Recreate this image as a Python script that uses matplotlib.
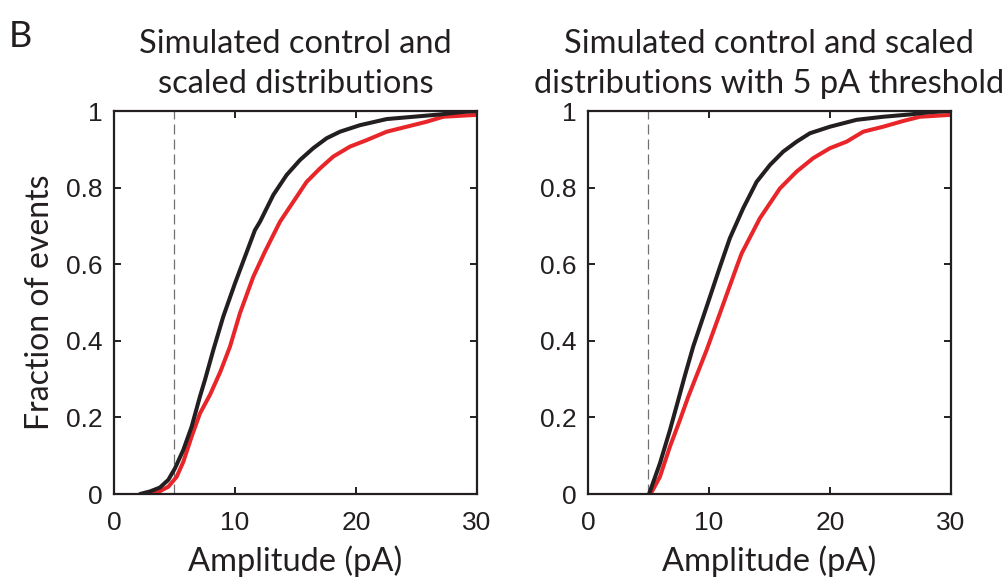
import numpy as np
import matplotlib
matplotlib.use('Agg')
import matplotlib.pyplot as plt

# curves (amplitude in pA, cumulative fraction)
ctrl_x = [2.15, 3.0, 3.8, 4.49, 5.04, 5.73, 6.42, 7.1, 7.52, 8.21, 9.03, 10.0, 10.83, 11.65, 12.07, 13.17,
          14.27, 15.37, 16.47, 17.58, 18.68, 20.33, 22.54, 24.74, 26.94, 28.6, 30.0]
ctrl_y = [0.0, 0.007, 0.017, 0.037, 0.067, 0.115, 0.176, 0.254, 0.298, 0.376, 0.463, 0.55, 0.62, 0.689, 0.711, 0.781,
          0.833, 0.872, 0.903, 0.929, 0.946, 0.963, 0.979, 0.985, 0.991, 0.997, 1.0]
scal_x = [2.42, 3.53, 4.49, 5.18, 5.73, 6.42, 7.1, 7.95, 8.8, 9.59, 10.41, 11.51, 12.48, 13.72, 14.82, 15.92,
          17.02, 18.12, 19.5, 20.88, 22.54, 24.19, 25.84, 27.21, 30.0]
scal_y = [0.0, 0.003, 0.019, 0.045, 0.084, 0.15, 0.21, 0.26, 0.32, 0.385, 0.472, 0.567, 0.633, 0.711, 0.763, 0.815,
          0.85, 0.881, 0.907, 0.924, 0.946, 0.959, 0.972, 0.985, 0.99]

thr_ctrl_x = [5.05, 5.95, 6.78, 7.46, 8.02, 8.7, 9.81, 10.91, 11.73, 12.83, 13.94, 15.04, 16.14, 17.25, 18.35,
              20.0, 22.2, 24.4, 26.6, 28.26, 30.0]
thr_ctrl_y = [0.0, 0.08, 0.167, 0.245, 0.31, 0.385, 0.489, 0.593, 0.668, 0.746, 0.815, 0.859, 0.894, 0.92, 0.942,
              0.959, 0.977, 0.985, 0.991, 0.997, 1.0]
thr_scal_x = [5.18, 5.95, 6.78, 7.6, 8.29, 9.81, 10.91, 12.29, 12.7, 14.21, 15.87, 17.25, 18.62, 20.0,
              21.38, 22.75, 24.4, 26.06, 27.44, 30.0]
thr_scal_y = [0.0, 0.045, 0.124, 0.193, 0.254, 0.376, 0.472, 0.593, 0.628, 0.72, 0.798, 0.842, 0.877, 0.903,
              0.92, 0.946, 0.959, 0.974, 0.985, 0.99]

threshold = 5
titles = ['Simulated control and\nscaled distributions',
          'Simulated control and scaled\ndistributions with 5 pA threshold']
xticks = [0, 10, 20, 30]
yticks = [0, 0.2, 0.4, 0.6, 0.8, 1]
yticklabels = ['0', '0.2', '0.4', '0.6', '0.8', '1']

label_font = 'Lato'
tick_font = 'Liberation Sans'
black = '#231f20'
red = '#e8262a'

fig = plt.figure(figsize=(10.05, 5.77), dpi=100)
ax1 = fig.add_axes([0.1134, 0.1438, 0.3612, 0.6638])
ax2 = fig.add_axes([0.585, 0.1438, 0.3612, 0.6638])

data = [(ctrl_x, ctrl_y, scal_x, scal_y), (thr_ctrl_x, thr_ctrl_y, thr_scal_x, thr_scal_y)]

for i, (ax, (cx, cy, sx, sy)) in enumerate(zip([ax1, ax2], data)):
    ax.axvline(threshold, color='#707070', lw=0.9, dashes=(8, 4), zorder=1)
    ax.plot(sx, sy, color=red, lw=2.9, solid_capstyle='round', solid_joinstyle='round', zorder=2)
    ax.plot(cx, cy, color=black, lw=2.9, solid_capstyle='round', solid_joinstyle='round', zorder=3)
    ax.set_xlim(0, 30)
    ax.set_ylim(0, 1)
    ax.set_xticks(xticks)
    ax.set_yticks(yticks)
    ax.set_yticklabels(yticklabels)
    ax.tick_params(direction='in', length=5, width=1.4, top=True, right=True,
                   labelsize=19, colors=black)
    ax.tick_params(axis='x', pad=12)
    ax.tick_params(axis='y', pad=8)
    for lab in ax.get_xticklabels() + ax.get_yticklabels():
        lab.set_fontfamily(tick_font)
    for sp in ax.spines.values():
        sp.set_linewidth(1.6)
        sp.set_color(black)
    ax.set_xlabel('Amplitude (pA)', fontsize=23.5, family=label_font, color=black, labelpad=8)
    ax.set_title(titles[i], fontsize=23.5, family=label_font, color=black,
                 linespacing=1.4, pad=13)

ax1.set_ylabel('Fraction of events', fontsize=23, family=label_font, color=black, labelpad=8)

fig.text(0.009, 0.965, 'B', fontsize=26, family=label_font, color=black, va='top')

fig.savefig('out.png', dpi=100)
